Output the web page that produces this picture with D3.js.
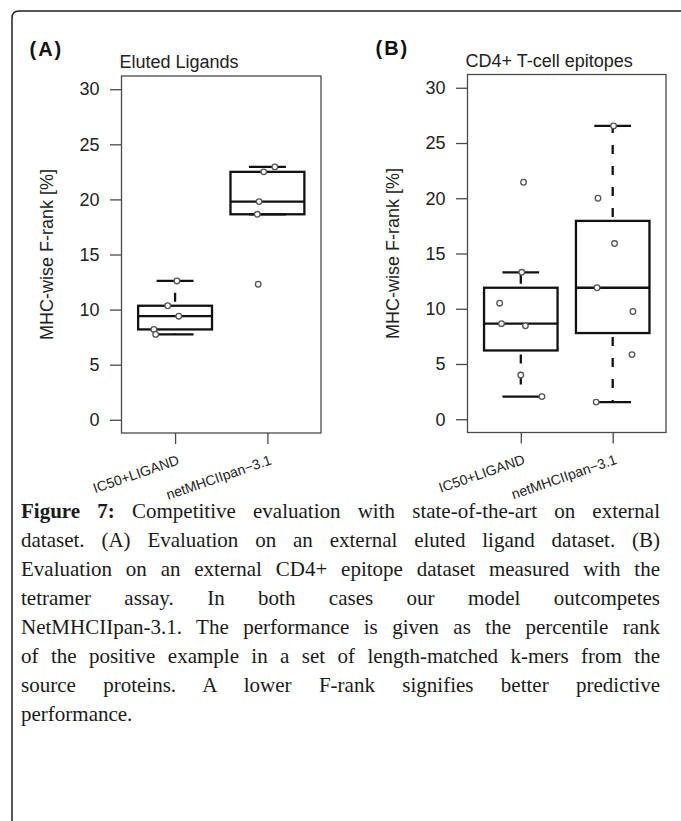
<!DOCTYPE html>
<html>
<head>
<meta charset="utf-8">
<script src="https://cdn.jsdelivr.net/npm/d3@7"></script>
<style>
  body { margin: 0; background: #fff; }
  #wrap { position: relative; width: 681px; height: 821px; }
  #chart { position: absolute; left: 0; top: 0; }
  #caption {
    position: absolute; left: 21px; top: 497px; width: 639px;
    font-family: "Liberation Serif", "DejaVu Serif", serif;
    font-size: 21px; line-height: 29px; color: #1a1a1a;
  }
  #caption div { text-align: justify; text-align-last: justify; white-space: nowrap; }
  #caption div.last { text-align-last: left; }
</style>
</head>
<body>
<div id="wrap">
  <svg id="chart" width="681" height="821"></svg>
  <div id="caption"></div>
</div>
<script>
const categories = ["IC50+LIGAND", "netMHCIIpan\u22123.1"];
const panelTags = ["(A)", "(B)"];
const panelTitles = ["Eluted Ligands", "CD4+ T-cell epitopes"];
const yTicks = [0, 5, 10, 15, 20, 25, 30];
const yLabel = "MHC-wise F-rank [%]";

// F-rank (%) per positive example
const elutedIC50 = [12.6, 10.35, 9.4, 8.2, 7.75];
const elutedNet = [22.95, 22.5, 19.8, 18.65, 12.3];
const cd4IC50 = [21.45, 13.3, 10.5, 8.65, 8.45, 4.0, 2.05];
const cd4Net = [26.55, 20.0, 15.9, 11.9, 9.75, 5.85, 1.55];

// horizontal jitter of each point, in category units
const jitElutedIC50 = [0.02, -0.08, 0.04, -0.23, -0.21];
const jitElutedNet = [0.08, -0.04, -0.09, -0.11, -0.10];
const jitCd4IC50 = [0.03, 0.01, -0.23, -0.21, 0.05, 0.0, 0.23];
const jitCd4Net = [0.01, -0.16, 0.02, -0.17, 0.22, 0.21, -0.18];

const captionLines = [
  "<b>Figure 7:</b> Competitive evaluation with state-of-the-art on external",
  "dataset. (A) Evaluation on an external eluted ligand dataset. (B)",
  "Evaluation on an external CD4+ epitope dataset measured with the",
  "tetramer assay. In both cases our model outcompetes",
  "NetMHCIIpan-3.1. The performance is given as the percentile rank",
  "of the positive example in a set of length-matched k-mers from the",
  "source proteins. A lower F-rank signifies better predictive",
  "performance."
];

const panels = [
  { tag: panelTags[0], title: panelTitles[0], groups: [[elutedIC50, jitElutedIC50], [elutedNet, jitElutedNet]],
    left: 121.5, right: 321, top: 76, bottom: 433 },
  { tag: panelTags[1], title: panelTitles[1], groups: [[cd4IC50, jitCd4IC50], [cd4Net, jitCd4Net]],
    left: 467.5, right: 666, top: 74.5, bottom: 432.5 }
];

// same as R's fivenum()
function fivenum(arr) {
  const s = arr.slice().sort((a, b) => a - b);
  const n = s.length;
  const n4 = Math.floor((n + 3) / 2) / 2;
  const d = [1, n4, (n + 1) / 2, n + 1 - n4, n];
  return d.map(v => 0.5 * (s[Math.floor(v) - 1] + s[Math.ceil(v) - 1]));
}

function boxStats(arr) {
  const f = fivenum(arr);
  const iqr = f[3] - f[1];
  const inside = arr.filter(v => v >= f[1] - 1.5 * iqr && v <= f[3] + 1.5 * iqr);
  return { lo: d3.min(inside), q1: f[1], med: f[2], q3: f[3], hi: d3.max(inside) };
}

const svg = d3.select("#chart");
const sans = "'Liberation Sans', Arial, sans-serif";
const frameCol = "#4a4a4a";
const boxCol = "#111";

// outer figure frame (left + top, rounded corner)
svg.append("path")
  .attr("d", "M12,821 L12,18 Q12,11 19,11 L681,11")
  .attr("fill", "none")
  .attr("stroke", "#222")
  .attr("stroke-width", 1.5);

panels.forEach(p => {
  const x = d3.scaleLinear().domain([0.42, 2.58]).range([p.left, p.right]);
  const y = d3.scaleLinear().domain([-1.2, 31.2]).range([p.bottom, p.top]);
  const g = svg.append("g");

  // panel tag and title
  g.append("text")
    .attr("x", p.left - 92).attr("y", p.top - 20)
    .attr("font-family", sans).attr("font-weight", "bold")
    .attr("font-size", 20).attr("letter-spacing", 2)
    .attr("fill", "#111")
    .text(p.tag);
  g.append("text")
    .attr("x", p.left - 2).attr("y", p.top - 8)
    .attr("font-family", sans).attr("font-size", 18)
    .attr("fill", "#222")
    .text(p.title);

  // y axis
  const ya = g.append("g")
    .attr("transform", `translate(${p.left},0)`)
    .call(d3.axisLeft(y).tickValues(yTicks).tickSize(11.5).tickPadding(10.5));
  ya.select(".domain").remove();
  ya.selectAll("line").attr("stroke", frameCol).attr("stroke-width", 1.3);
  ya.selectAll("text").attr("font-family", sans).attr("font-size", 18).attr("fill", "#222");

  // x axis ticks
  const xa = g.append("g")
    .attr("transform", `translate(0,${p.bottom})`)
    .call(d3.axisBottom(x).tickValues([1, 2]).tickSize(11).tickFormat(""));
  xa.select(".domain").remove();
  xa.selectAll("line").attr("stroke", frameCol).attr("stroke-width", 1.3);

  // rotated category labels
  g.selectAll("text.cat")
    .data(categories)
    .enter()
    .append("text")
    .attr("class", "cat")
    .attr("text-anchor", "end")
    .attr("transform", (d, i) => `translate(${x(i + 1) + 5},${p.bottom + 31}) rotate(-19)`)
    .attr("font-family", sans).attr("font-size", 14)
    .attr("fill", "#222")
    .text(d => d);

  // y label
  g.append("text")
    .attr("transform", `translate(${p.left - 69},${(p.top + p.bottom) / 2}) rotate(-90)`)
    .attr("text-anchor", "middle")
    .attr("font-family", sans).attr("font-size", 18)
    .attr("fill", "#222")
    .text(yLabel);

  // plot frame
  g.append("rect")
    .attr("x", p.left).attr("y", p.top)
    .attr("width", p.right - p.left).attr("height", p.bottom - p.top)
    .attr("fill", "none").attr("stroke", frameCol).attr("stroke-width", 1.3);

  // boxes
  p.groups.forEach(([vals, jit], i) => {
    const s = boxStats(vals);
    const cx = i + 1;
    const bw = 0.4, cw = 0.2;

    [[s.q3, s.hi], [s.q1, s.lo]].forEach(([a, b]) => {
      g.append("line")
        .attr("x1", x(cx)).attr("x2", x(cx))
        .attr("y1", y(a)).attr("y2", y(b))
        .attr("stroke", boxCol).attr("stroke-width", 2.3)
        .attr("stroke-dasharray", "0,4,9,8");
    });
    [s.lo, s.hi].forEach(v => {
      g.append("line")
        .attr("x1", x(cx - cw)).attr("x2", x(cx + cw))
        .attr("y1", y(v)).attr("y2", y(v))
        .attr("stroke", boxCol).attr("stroke-width", 2.3);
    });
    g.append("rect")
      .attr("x", x(cx - bw)).attr("y", y(s.q3))
      .attr("width", x(cx + bw) - x(cx - bw)).attr("height", y(s.q1) - y(s.q3))
      .attr("fill", "none").attr("stroke", boxCol).attr("stroke-width", 2.3);
    g.append("line")
      .attr("x1", x(cx - bw)).attr("x2", x(cx + bw))
      .attr("y1", y(s.med)).attr("y2", y(s.med))
      .attr("stroke", boxCol).attr("stroke-width", 2.3);

    // jittered points
    g.selectAll(null)
      .data(vals)
      .enter()
      .append("circle")
      .attr("cx", (d, k) => x(cx + jit[k]))
      .attr("cy", d => y(d))
      .attr("r", 2.8)
      .attr("fill", "#fff")
      .attr("stroke", "#555")
      .attr("stroke-width", 1.3);
  });
});

d3.select("#caption")
  .selectAll("div")
  .data(captionLines)
  .enter()
  .append("div")
  .attr("class", (d, i) => i === captionLines.length - 1 ? "last" : null)
  .html(d => d);
</script>
</body>
</html>
